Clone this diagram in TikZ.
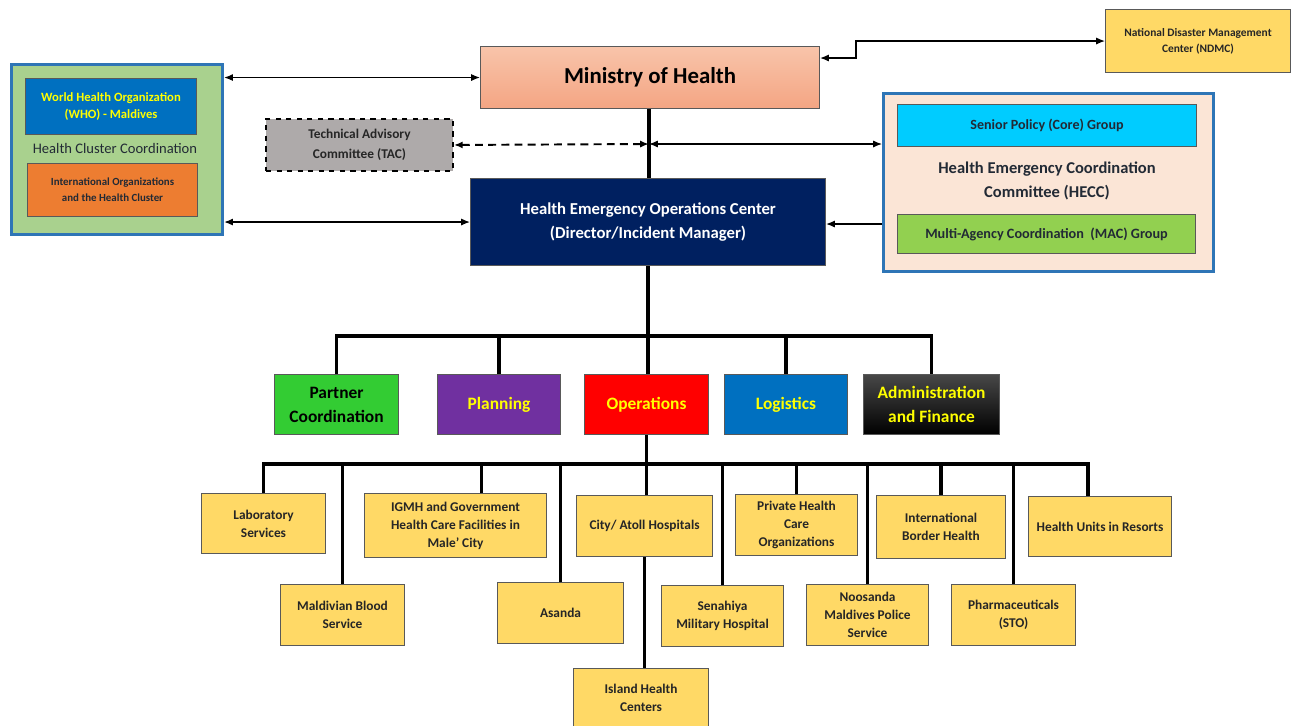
\documentclass[tikz,border=0pt]{standalone}
\usepackage{fontspec}
\setmainfont{Carlito}
\usetikzlibrary{arrows.meta}
\definecolor{clgreen}{HTML}{A9D18E}
\definecolor{clblue}{HTML}{2E75B6}
\definecolor{whoblue}{HTML}{0070C0}
\definecolor{orng}{HTML}{ED7D31}
\definecolor{mohtop}{HTML}{F8C4AA}
\definecolor{mohbot}{HTML}{F4A583}
\definecolor{tacgray}{HTML}{AEAAAA}
\definecolor{navy}{HTML}{002060}
\definecolor{gold}{HTML}{FFD966}
\definecolor{peach}{HTML}{FBE5D6}
\definecolor{cyanb}{HTML}{00CCFF}
\definecolor{macg}{HTML}{92D050}
\definecolor{partg}{HTML}{33CC33}
\definecolor{purp}{HTML}{7030A0}
\definecolor{yel}{HTML}{FFFF00}
\definecolor{bord}{HTML}{595959}
\definecolor{txt}{HTML}{262626}
\definecolor{hecctxt}{HTML}{222A35}
\newcommand\pnode[7]{\node[#1,anchor=north west,minimum width={(#5-#3)*0.02cm},minimum height={(#6-#4)*0.02cm}] (#2) at (#3,#4) {#7};}
\newcommand\fs[2]{\fontsize{#1}{#2}\selectfont}
\begin{document}
\begin{tikzpicture}[x=0.02cm,y=-0.02cm,
  box/.style={draw=bord,line width=0.6pt,inner sep=1pt,align=center,font=\bfseries},
  leaf/.style={box,fill=gold,text=txt,font=\fs{7.6}{10.2}\bfseries},
  sect/.style={box,text=yel,font=\fs{9.9}{13.6}\bfseries},
  org/.style={line width=2pt,black},
  conn/.style={line width=0.7pt,black,{Latex[length=5pt,width=4pt]}-{Latex[length=5pt,width=4pt]}},
  conn1/.style={line width=0.7pt,black,-{Latex[length=5pt,width=4pt]}}]
\useasboundingbox (0,0) rectangle (1292,725);
% left cluster
\pnode{draw=clblue,line width=1.8pt,fill=clgreen,inner sep=0pt}{cluster}{10}{63}{221}{233}{}
\pnode{box,fill=whoblue,text=yel,font=\fs{7.2}{10.2}\bfseries}{who}{25}{78}{196}{134}{World Health Organization\\(WHO) - Maldives}
\node[font=\fs{8.3}{10},text=hecctxt] (hcc) at (115,148) {Health Cluster Coordination};
\pnode{box,fill=orng,text=hecctxt,font=\fs{6.2}{9}\bfseries}{intl}{27}{163}{197}{216}{International Organizations\\and the Health Cluster}
% top
\pnode{box,top color=mohtop,bottom color=mohbot,font=\fs{13}{15}\bfseries}{moh}{480}{46}{819}{108}{Ministry of Health}
\pnode{box,draw=black,dashed,line width=1.1pt,fill=tacgray,text=txt,font=\fs{7.6}{11.3}\bfseries}{tac}{265}{118}{452}{170}{Technical Advisory\\Committee (TAC)}
\pnode{box,fill=navy,text=white,font=\fs{9.5}{13.6}\bfseries}{heoc}{470}{178}{825}{265}{Health Emergency Operations Center\\(Director/Incident Manager)}
\pnode{box,fill=gold,text=txt,font=\fs{6.5}{9}\bfseries}{ndmc}{1105}{9}{1290}{72}{National Disaster Management\\Center (NDMC)}
% HECC
\pnode{draw=clblue,line width=1.8pt,fill=peach,inner sep=0pt}{hecc}{882}{92}{1212}{270}{}
\pnode{box,fill=cyanb,text=hecctxt,font=\fs{8}{10}\bfseries}{spg}{897}{104}{1196}{146}{Senior Policy (Core) Group}
\node[align=center,font=\fs{9.4}{13.6}\bfseries,text=hecctxt] (heccl) at (1047,181) {Health Emergency Coordination\\Committee (HECC)};
\pnode{box,fill=macg,text=hecctxt,font=\fs{8.1}{10}\bfseries}{mac}{897}{214}{1195}{253}{Multi-Agency Coordination~~(MAC) Group}
% sections
\pnode{sect,fill=partg,text=black}{partner}{274}{374}{398}{434}{Partner\\Coordination}
\pnode{sect,fill=purp}{plan}{437}{374}{560}{434}{Planning}
\pnode{sect,fill=red}{ops}{584}{374}{708}{434}{Operations}
\pnode{sect,fill=whoblue}{logi}{724}{374}{847}{434}{Logistics}
\pnode{sect,top color=black!72,bottom color=black}{admin}{863}{374}{999}{434}{Administration\\and Finance}
% leaves
\pnode{leaf}{lab}{201}{493}{325}{553}{Laboratory\\Services}
\pnode{leaf}{blood}{280}{584}{404}{645}{Maldivian Blood\\Service}
\pnode{leaf}{igmh}{364}{493}{546}{557}{IGMH and Government\\Health Care Facilities in\\Male’ City}
\pnode{leaf}{asanda}{497}{582}{623}{643}{Asanda}
\pnode{leaf}{city}{576}{495}{712}{556}{City/ Atoll Hospitals}
\pnode{leaf}{island}{573}{668}{708}{726}{Island Health\\Centers}
\pnode{leaf}{sena}{661}{585}{783}{646}{Senahiya\\Military Hospital}
\pnode{leaf}{priv}{735}{494}{857}{555}{Private Health\\Care\\Organizations}
\pnode{leaf}{noos}{806}{584}{928}{645}{Noosanda\\Maldives Police\\Service}
\pnode{leaf}{ibh}{876}{495}{1005}{558}{International\\Border Health}
\pnode{leaf}{pharma}{951}{584}{1075}{645}{Pharmaceuticals\\(STO)}
\pnode{leaf}{resorts}{1028}{496}{1171}{556}{Health Units in Resorts}
% coordinates
\coordinate (j1) at (649,144);
\coordinate (hy) at (0,224);
\coordinate (my) at (0,58);
\coordinate (kx) at (856,0);
\coordinate (b1) at (0,336);
\coordinate (b2) at (0,464);
% connectors top
\draw[org] (moh.south -| j1) -- (heoc.north -| j1);
\draw[conn,line width=1.1pt,dash pattern=on 4.5pt off 3pt] (tac.east) -- (j1);
\draw[conn] (j1) -- (j1 -| hecc.west);
\draw[conn1] (hecc.west |- hy) -- (heoc.east |- hy);
\draw[conn] (cluster.east |- moh.west) -- (moh.west);
\draw[conn] (cluster.east |- heoc.west) -- (heoc.west);
\draw[conn] (moh.east |- my) -- (kx |- my) -- (kx |- ndmc.west) -- (ndmc.west);
% org tree sections
\draw[org] (heoc.south) -- (heoc.south |- ops.north);
\draw[org] (partner.north) -- (partner.north |- b1) -- (admin.north |- b1) -- (admin.north);
\draw[org] (plan.north) -- (plan.north |- b1);
\draw[org] (logi.north) -- (logi.north |- b1);
% leaves tree
\draw[org] (ops.south) -- (ops.south |- city.north);
\draw[org] (city.south) -- (city.south |- island.north);
\draw[org] (lab.north) -- (lab.north |- b2) -- ([xshift=-0.24cm]resorts.north |- b2) -- ([xshift=-0.24cm]resorts.north);
\draw[org] (blood.north) -- (blood.north |- b2);
\draw[org] ([xshift=0.52cm]igmh.north) -- ([xshift=0.52cm]igmh.north |- b2);
\draw[org] (asanda.north) -- (asanda.north |- b2);
\draw[org] (sena.north) -- (sena.north |- b2);
\draw[org] (priv.north) -- (priv.north |- b2);
\draw[org] (noos.north) -- (noos.north |- b2);
\draw[org] (ibh.north) -- (ibh.north |- b2);
\draw[org] (pharma.north) -- (pharma.north |- b2);
\end{tikzpicture}
\end{document}
